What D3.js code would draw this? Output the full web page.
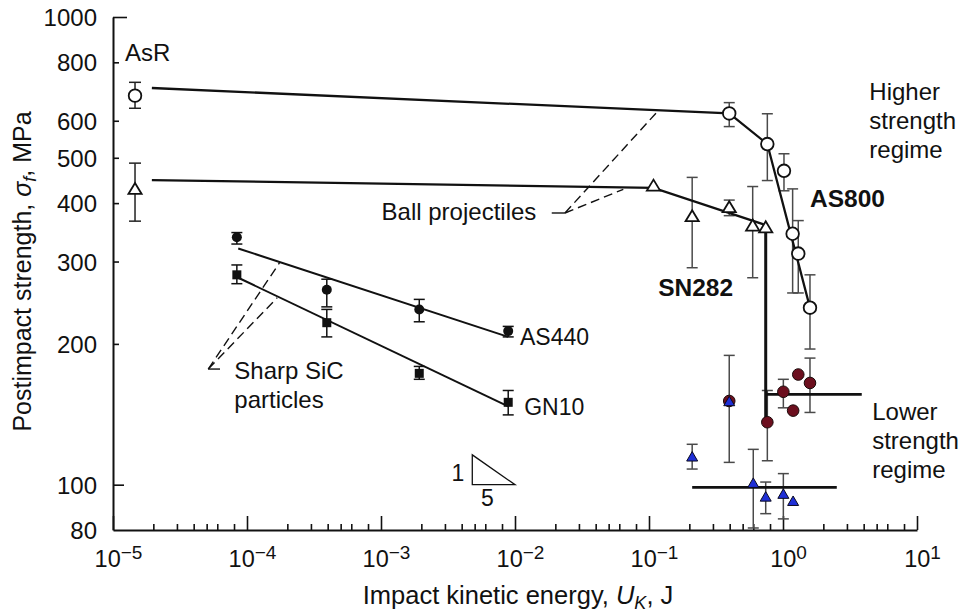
<!DOCTYPE html>
<html>
<head>
<meta charset="utf-8">
<script src="https://cdn.jsdelivr.net/npm/d3@7"></script>
<style>
  html, body { margin: 0; padding: 0; background: #fff; }
  svg { display: block; font-family: "Liberation Sans", Arial, Helvetica, sans-serif; }
</style>
</head>
<body>
<svg id="chart" width="966" height="614"></svg>
<script>
// ---------- Data (impact energy in J, strength in MPa) ----------

// AS800 struck by balls (open circles); first point is the as-received (AsR) strength
const as800Energy   = [1.46e-5, 0.397, 0.764, 1.017, 1.18, 1.30, 1.59];
const as800Strength = [679, 622, 535, 469, 344, 312, 239];
const as800Low      = [638, 583, 447, 425, 257, 257, 195];
const as800High     = [725, 656, 621, 510, 429, 367, 281];

// SN282 struck by balls (open triangles); first point is AsR
const sn282Energy   = [1.46e-5, 0.108, 0.21, 0.397, 0.594, 0.743];
const sn282Strength = [430, 437, 376, 393, 359, 356];
const sn282Low      = [366, null, 291, 376, 277, null];
const sn282High     = [487, null, 454, 406, 434, null];

// Sharp SiC particle impacts
const sicEnergy     = [8.4e-5, 3.94e-4, 1.93e-3, 8.9e-3];
const as440Strength = [338, 261, 237, 213];
const as440Low      = [327, 240, 223, 207];
const as440High     = [346, 275, 249, 218];
const gn10Strength  = [281, 222, 173, 150];
const gn10Low       = [269, 207, 168, 141];
const gn10High      = [295, 237, 179, 159];

// Lower strength regime
const sn282LowEnergy   = [0.21, 0.397, 0.600, 0.743, 1.006, 1.19];
const sn282LowStrength = [115, 151, 101, 94.4, 95.7, 92.4];
const sn282LowLow      = [108, 111.6, 80.8, 86.7, 84.5, null];
const sn282LowHigh     = [122, 189, 119, 101.3, 105.6, null];
const as800LowEnergy   = [0.397, 0.764, 1.006, 1.19, 1.30, 1.59];
const as800LowStrength = [151, 136, 158, 144, 172, 165];
const as800LowLow      = [null, 112.5, 146, null, null, 142.7];
const as800LowHigh     = [null, 159, 168, null, null, 186.5];

// Trend lines
const as800FitEnergy   = [1.95e-5, 0.397, 0.764, 1.59];
const as800FitStrength = [705, 622, 535, 239];
const sn282FitEnergy   = [1.95e-5, 0.108, 0.743];
const sn282FitStrength = [448, 431, 359];
const sicFitEnergy     = [8.6e-5, 8.9e-3];
const as440FitStrength = [320, 207];
const gn10FitStrength  = [277, 147];

// Lower-regime mean levels and the SN282 drop
const sn282LowMeanEnergy = [0.21, 2.52];
const sn282LowMean       = 98.7;
const as800LowMeanEnergy = [0.743, 3.87];
const as800LowMean       = 156;
const dropEnergy         = 0.743;
const dropStrength       = [356, 136];

// Slope indicator (rise 1 over run 5 in log-log)
const slopeRise = 1, slopeRun = 5;
const slopeBaseEnergy = [4.8e-3, 1e-2];
const slopeBaseStrength = 100;

// Axis ticks
const xExponents = [-5, -4, -3, -2, -1, 0, 1];
const xMinorMultipliers = [2, 3, 4, 5, 6, 8];
const yTickValues = [80, 100, 200, 300, 400, 500, 600, 800, 1000];
const yMajorTicks = [100, 1000];

// ---------- Scales ----------
const W = 966, H = 614;
const margin = { top: 17, right: 49, bottom: 84, left: 113 };
const x = d3.scaleLog().domain([1e-5, 10]).range([margin.left, W - margin.right]);
const y = d3.scaleLog().domain([80, 1000]).range([H - margin.bottom, margin.top]);

const svg = d3.select("#chart");
svg.append("rect").attr("width", W).attr("height", H).attr("fill", "#fff");

const ink = "#111";
const font = 24;

// ---------- Axes ----------
const xMajor = xExponents.map(e => Math.pow(10, e));
const xMinor = [];
xExponents.slice(0, -1).forEach(e => xMinorMultipliers.forEach(m => xMinor.push(m * Math.pow(10, e))));

const gx = svg.append("g")
  .attr("transform", `translate(0,${y.range()[0]})`)
  .call(d3.axisBottom(x).tickValues(xMajor.concat(xMinor)).tickSizeInner(-6).tickSizeOuter(0).tickFormat(() => ""));
gx.select(".domain").attr("stroke", ink).attr("stroke-width", 2);
gx.selectAll(".tick line").attr("stroke", ink).attr("stroke-width", 1.6);
gx.selectAll(".tick").each(function (d) {
  const g = d3.select(this);
  const exp = Math.round(Math.log10(d));
  const isMajor = Math.abs(d - Math.pow(10, exp)) < 1e-12 * Math.pow(10, exp);
  if (isMajor) {
    g.select("line").attr("y2", -14);
    const t = g.select("text")
      .attr("x", 5).attr("y", 37).attr("dy", null)
      .attr("fill", ink).attr("font-size", 23.5)
      .attr("font-family", "Liberation Sans, Arial, sans-serif")
      .text(null);
    t.append("tspan").text("10");
    t.append("tspan").attr("font-size", 19).attr("dy", -8)
      .text(exp < 0 ? "\u2212" + Math.abs(exp) : String(exp));
  } else {
    g.select("text").remove();
  }
});

const gy = svg.append("g")
  .attr("transform", `translate(${x.range()[0]},0)`)
  .call(d3.axisLeft(y).tickValues(yTickValues).tickSizeInner(-6).tickSizeOuter(0).tickPadding(16)
    .tickFormat(d3.format("d")));
gy.select(".domain").attr("stroke", ink).attr("stroke-width", 2);
gy.selectAll(".tick line").attr("stroke", ink).attr("stroke-width", 1.6)
  .attr("x2", d => d === 1000 ? 14 : (yMajorTicks.includes(d) ? 11 : 6))
  .attr("display", d => d === 80 ? "none" : null);
gy.selectAll(".tick text").attr("fill", ink).attr("font-size", 24)
  .attr("font-family", "Liberation Sans, Arial, sans-serif").attr("dy", "0.36em");

// Axis titles
const xTitle = svg.append("text")
  .attr("x", (x.range()[0] + x.range()[1]) / 2 + 3).attr("y", 604)
  .attr("text-anchor", "middle").attr("font-size", 25.5).attr("fill", ink);
xTitle.append("tspan").text("Impact kinetic energy, ");
xTitle.append("tspan").attr("font-style", "italic").text("U");
xTitle.append("tspan").attr("font-style", "italic").attr("font-size", 18).attr("dy", 5).text("K");
xTitle.append("tspan").attr("dy", -5).text(", J");

const yTitle = svg.append("text")
  .attr("transform", `translate(31,${(y.range()[0] + y.range()[1]) / 2 - 2}) rotate(-90)`)
  .attr("text-anchor", "middle").attr("font-size", 25).attr("fill", ink);
yTitle.append("tspan").text("Postimpact strength, ");
yTitle.append("tspan").attr("font-style", "italic").text("\u03c3");
yTitle.append("tspan").attr("font-style", "italic").attr("font-size", 18).attr("dy", 5).text("f");
yTitle.append("tspan").attr("dy", -5).text(", MPa");

// ---------- Helpers ----------
const line = d3.line().x(d => x(d[0])).y(d => y(d[1]));
const zip = (xs, ys) => xs.map((e, i) => [e, ys[i]]);

function errorBars(xs, lo, hi, color, half) {
  const rows = xs.map((e, i) => ({ e, lo: lo[i], hi: hi[i] })).filter(r => r.lo != null);
  const g = svg.append("g").attr("stroke", color).attr("stroke-width", 1.5).attr("fill", "none");
  g.selectAll(".bar").data(rows).join("line")
    .attr("x1", r => x(r.e)).attr("x2", r => x(r.e))
    .attr("y1", r => y(r.lo)).attr("y2", r => y(r.hi));
  g.selectAll(".capLo").data(rows).join("line")
    .attr("x1", r => x(r.e) - half).attr("x2", r => x(r.e) + half)
    .attr("y1", r => y(r.lo)).attr("y2", r => y(r.lo));
  g.selectAll(".capHi").data(rows).join("line")
    .attr("x1", r => x(r.e) - half).attr("x2", r => x(r.e) + half)
    .attr("y1", r => y(r.hi)).attr("y2", r => y(r.hi));
}

function trianglePath(cx, cy, hw, h) {
  return `M${cx},${cy - h / 2}L${cx + hw},${cy + h / 2}L${cx - hw},${cy + h / 2}Z`;
}

// ---------- Error bars ----------
const grey = "#4a4a4a";
errorBars(as800Energy.slice(0, 1), as800Low, as800High, "#222", 6);
errorBars(sn282Energy.slice(0, 1), sn282Low, sn282High, "#222", 6);
errorBars(as800Energy.slice(1), as800Low.slice(1), as800High.slice(1), grey, 5.5);
errorBars(sn282Energy.slice(1), sn282Low.slice(1), sn282High.slice(1), grey, 5.5);
errorBars(sicEnergy, as440Low, as440High, ink, 5.5);
errorBars(sicEnergy, gn10Low, gn10High, ink, 5.5);
errorBars(sn282LowEnergy, sn282LowLow, sn282LowHigh, grey, 5.5);
errorBars(as800LowEnergy, as800LowLow, as800LowHigh, grey, 5.5);

// ---------- Trend and mean lines ----------
const lines = svg.append("g").attr("fill", "none").attr("stroke", ink);
lines.append("path").attr("d", line(zip(as800FitEnergy, as800FitStrength))).attr("stroke-width", 2.3);
lines.append("path").attr("d", line(zip(sn282FitEnergy, sn282FitStrength))).attr("stroke-width", 2.3);
lines.append("path").attr("d", line(zip(sicFitEnergy, as440FitStrength))).attr("stroke-width", 2);
lines.append("path").attr("d", line(zip(sicFitEnergy, gn10FitStrength))).attr("stroke-width", 2);
lines.append("path").attr("d", line(sn282LowMeanEnergy.map(e => [e, sn282LowMean]))).attr("stroke-width", 2.6);
lines.append("path").attr("d", line(as800LowMeanEnergy.map(e => [e, as800LowMean]))).attr("stroke-width", 2.6);
lines.append("path").attr("d", line(dropStrength.map(s => [dropEnergy, s]))).attr("stroke-width", 3);

// ---------- Leader lines for annotations ----------
const leaders = svg.append("g").attr("fill", "none").attr("stroke", ink).attr("stroke-width", 1.4);
const ballTip = [0.0236, 381];
leaders.append("path").attr("d", line([[0.0188, 381], ballTip]));
leaders.append("path").attr("d", line([ballTip, [0.117, 630]])).attr("stroke-dasharray", "9,5");
leaders.append("path").attr("d", line([ballTip, [0.0643, 428]])).attr("stroke-dasharray", "9,5");
const sicTip = [5.14e-5, 176.7];
leaders.append("path").attr("d", line([sicTip, [6.29e-5, 176.7]]));
leaders.append("path").attr("d", line([sicTip, [1.76e-4, 299]])).attr("stroke-dasharray", "9,5");
leaders.append("path").attr("d", line([sicTip, [1.68e-4, 251]])).attr("stroke-dasharray", "9,5");

// Slope triangle 1:5
const slopeTop = slopeBaseStrength * Math.pow(slopeBaseEnergy[1] / slopeBaseEnergy[0], slopeRise / slopeRun);
svg.append("path")
  .attr("d", line([[slopeBaseEnergy[0], slopeTop], [slopeBaseEnergy[0], slopeBaseStrength],
                   [slopeBaseEnergy[1], slopeBaseStrength]]) + "Z")
  .attr("fill", "none").attr("stroke", ink).attr("stroke-width", 1.3);

// ---------- Markers ----------
const markers = svg.append("g");
// lower regime: dark red circles, then blue triangles on top
markers.selectAll(".redc").data(zip(as800LowEnergy, as800LowStrength)).join("circle")
  .attr("cx", d => x(d[0])).attr("cy", d => y(d[1])).attr("r", 5.8)
  .attr("fill", "#6c0f1e").attr("stroke", "#1a0a0a").attr("stroke-width", 1);
markers.selectAll(".bluet").data(zip(sn282LowEnergy, sn282LowStrength)).join("path")
  .attr("d", d => trianglePath(x(d[0]), y(d[1]), 5.5, 9.5))
  .attr("fill", "#1f2fd6").attr("stroke", "#0a0a20").attr("stroke-width", 1);

// SiC impacts
markers.selectAll(".as440").data(zip(sicEnergy, as440Strength)).join("circle")
  .attr("cx", d => x(d[0])).attr("cy", d => y(d[1])).attr("r", 5).attr("fill", ink);
markers.selectAll(".gn10").data(zip(sicEnergy, gn10Strength)).join("rect")
  .attr("x", d => x(d[0]) - 4.5).attr("y", d => y(d[1]) - 4.5)
  .attr("width", 9).attr("height", 9).attr("fill", ink);

// Ball impacts (open symbols)
markers.selectAll(".as800").data(zip(as800Energy, as800Strength)).join("circle")
  .attr("cx", d => x(d[0])).attr("cy", d => y(d[1])).attr("r", 6.3)
  .attr("fill", "#fff").attr("stroke", ink).attr("stroke-width", 1.8);
markers.selectAll(".sn282").data(zip(sn282Energy, sn282Strength)).join("path")
  .attr("d", d => trianglePath(x(d[0]), y(d[1]), 6.6, 11))
  .attr("fill", "#fff").attr("stroke", ink).attr("stroke-width", 1.8);

// ---------- Text annotations ----------
function label(e, s, lines, opts = {}) {
  const t = svg.append("text")
    .attr("x", x(e)).attr("y", y(s))
    .attr("font-size", opts.size || font)
    .attr("font-weight", opts.bold ? "bold" : null)
    .attr("text-anchor", opts.anchor || "start")
    .attr("fill", ink);
  lines.forEach((txt, i) => {
    t.append("tspan").attr("x", x(e)).attr("dy", i === 0 ? 0 : 29).text(txt);
  });
  return t;
}
label(1.23e-5, 805, ["AsR"]);
label(4.41, 665, ["Higher", "strength", "regime"]);
label(1.59, 393, ["AS800"], { bold: true, size: 24.5 });
label(0.117, 252.6, ["SN282"], { bold: true, size: 24.5 });
label(1.01e-3, 368, ["Ball projectiles"]);
label(8.04e-5, 168.2, ["Sharp SiC", "particles"]);
label(1.09e-2, 199, ["AS440"], { size: 23 });
label(1.17e-2, 141.1, ["GN10"], { size: 23 });
label(4.63, 137.7, ["Lower", "strength", "regime"]);
label(3.75e-3, 101.6, [String(slopeRise)], { anchor: "middle", size: 23 });
label(6.21e-3, 89.9, [String(slopeRun)], { anchor: "middle", size: 23 });
</script>
</body>
</html>
